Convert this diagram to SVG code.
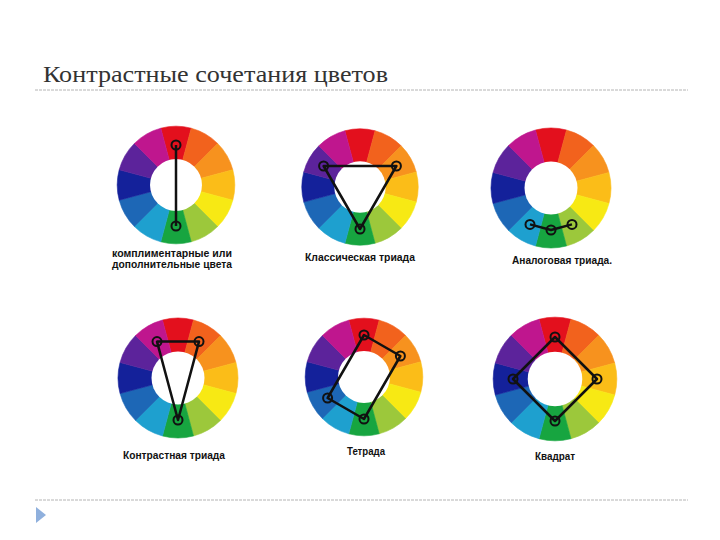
<svg xmlns="http://www.w3.org/2000/svg" xmlns:xlink="http://www.w3.org/1999/xlink" width="720" height="540" viewBox="0 0 720 540">
<style>
.title{font-family:"Liberation Serif","DejaVu Serif",serif;font-size:23px;fill:#333}
.lbl{font-family:"Liberation Sans","DejaVu Sans",sans-serif;font-size:10.5px;font-weight:bold;fill:#111}
.rule{stroke:#b4b4b4;stroke-width:1;stroke-dasharray:3 1}
.c1{fill:#e3101d;stroke:#e3101d}
.c2{fill:#f2621d;stroke:#f2621d}
.c3{fill:#f7921e;stroke:#f7921e}
.c4{fill:#fbbd18;stroke:#fbbd18}
.c5{fill:#f7e914;stroke:#f7e914}
.c6{fill:#9cc83b;stroke:#9cc83b}
.c7{fill:#17a540;stroke:#17a540}
.c8{fill:#1ea0cf;stroke:#1ea0cf}
.c9{fill:#1d67b6;stroke:#1d67b6}
.c10{fill:#14219a;stroke:#14219a}
.c11{fill:#5c239b;stroke:#5c239b}
.c12{fill:#bf168e;stroke:#bf168e}
.seg path{stroke-width:0.6}
.link{fill:none;stroke:#111;stroke-width:2.5;stroke-linejoin:round}
.dot{fill:none;stroke:#111;stroke-width:2}
</style>
<defs>
<g id="wheel" class="seg">
<path class="c1" d="M0 0L-15.53-57.96A60 60 0 0 1 15.53-57.96Z"/>
<path class="c2" d="M0 0L15.53-57.96A60 60 0 0 1 42.43-42.43Z"/>
<path class="c3" d="M0 0L42.43-42.43A60 60 0 0 1 57.96-15.53Z"/>
<path class="c4" d="M0 0L57.96-15.53A60 60 0 0 1 57.96 15.53Z"/>
<path class="c5" d="M0 0L57.96 15.53A60 60 0 0 1 42.43 42.43Z"/>
<path class="c6" d="M0 0L42.43 42.43A60 60 0 0 1 15.53 57.96Z"/>
<path class="c7" d="M0 0L15.53 57.96A60 60 0 0 1-15.53 57.96Z"/>
<path class="c8" d="M0 0L-15.53 57.96A60 60 0 0 1-42.43 42.43Z"/>
<path class="c9" d="M0 0L-42.43 42.43A60 60 0 0 1-57.96 15.53Z"/>
<path class="c10" d="M0 0L-57.96 15.53A60 60 0 0 1-57.96-15.53Z"/>
<path class="c11" d="M0 0L-57.96-15.53A60 60 0 0 1-42.43-42.43Z"/>
<path class="c12" d="M0 0L-42.43-42.43A60 60 0 0 1-15.53-57.96Z"/>
<circle r="26.5" fill="#fff" stroke="none"/>
</g>
</defs>
<rect width="720" height="540" fill="#fff"/>
<text class="title" x="43" y="82" textLength="345" lengthAdjust="spacingAndGlyphs">Контрастные сочетания цветов</text>
<line class="rule" x1="35" y1="90" x2="688" y2="90"/>
<line class="rule" x1="35" y1="500" x2="688" y2="500"/>
<polygon points="36,507 46,515 36,523" fill="#8fb0dd"/>

<g id="wheel-complementary">
<use xlink:href="#wheel" href="#wheel" transform="translate(176,185) scale(0.98)"/>
<text class="lbl" x="112" y="257" textLength="120" lengthAdjust="spacingAndGlyphs">комплиментарные или</text>
<text class="lbl" x="112" y="268" textLength="120" lengthAdjust="spacingAndGlyphs">дополнительные цвета</text>
</g>
<g id="wheel-classic-triad">
<use xlink:href="#wheel" href="#wheel" transform="translate(360,187) scale(0.97)"/>
<text class="lbl" x="305" y="261" textLength="110" lengthAdjust="spacingAndGlyphs">Классическая триада</text>
</g>
<g id="wheel-analog-triad">
<use xlink:href="#wheel" href="#wheel" transform="translate(551,188) scale(1.0)"/>
<text class="lbl" x="512" y="264" textLength="100" lengthAdjust="spacingAndGlyphs">Аналоговая триада.</text>
</g>
<g id="wheel-contrast-triad">
<use xlink:href="#wheel" href="#wheel" transform="translate(178,378) scale(1.0)"/>
<text class="lbl" x="123" y="459" textLength="102" lengthAdjust="spacingAndGlyphs">Контрастная триада</text>
</g>
<g id="wheel-tetrad">
<use xlink:href="#wheel" href="#wheel" transform="translate(364,377) scale(0.98)"/>
<text class="lbl" x="347" y="455" textLength="38" lengthAdjust="spacingAndGlyphs">Тетрада</text>
</g>
<g id="wheel-square">
<use xlink:href="#wheel" href="#wheel" transform="translate(555,379) scale(1.03)"/>
<text class="lbl" x="535" y="460" textLength="40" lengthAdjust="spacingAndGlyphs">Квадрат</text>
</g>

<g id="connectors">
<line class="link" x1="176" y1="145" x2="176" y2="226"/>
<polygon class="link" points="323.6,166 396.4,166 360,229"/>
<polyline class="link" points="530,224.4 551,230 572,224.4"/>
<polygon class="link" points="157,341.6 199,341.6 178,420"/>
<polygon class="link" points="364,335 400.4,356 364,419 327.6,398"/>
<polygon class="link" points="555,337 597,379 555,421 513,379"/>
</g>
<g id="dots">
<circle class="dot" cx="176" cy="145" r="4.5"/>
<circle class="dot" cx="176" cy="226" r="4.5"/>
<circle class="dot" cx="323.6" cy="166" r="4.5"/>
<circle class="dot" cx="396.4" cy="166" r="4.5"/>
<circle class="dot" cx="360" cy="229" r="4.5"/>
<circle class="dot" cx="530" cy="224.4" r="4.5"/>
<circle class="dot" cx="551" cy="230" r="4.5"/>
<circle class="dot" cx="572" cy="224.4" r="4.5"/>
<circle class="dot" cx="157" cy="341.6" r="4.5"/>
<circle class="dot" cx="199" cy="341.6" r="4.5"/>
<circle class="dot" cx="178" cy="420" r="4.5"/>
<circle class="dot" cx="364" cy="335" r="4.5"/>
<circle class="dot" cx="400.4" cy="356" r="4.5"/>
<circle class="dot" cx="364" cy="419" r="4.5"/>
<circle class="dot" cx="327.6" cy="398" r="4.5"/>
<circle class="dot" cx="555" cy="337" r="4.5"/>
<circle class="dot" cx="597" cy="379" r="4.5"/>
<circle class="dot" cx="555" cy="421" r="4.5"/>
<circle class="dot" cx="513" cy="379" r="4.5"/>
</g>
</svg>
